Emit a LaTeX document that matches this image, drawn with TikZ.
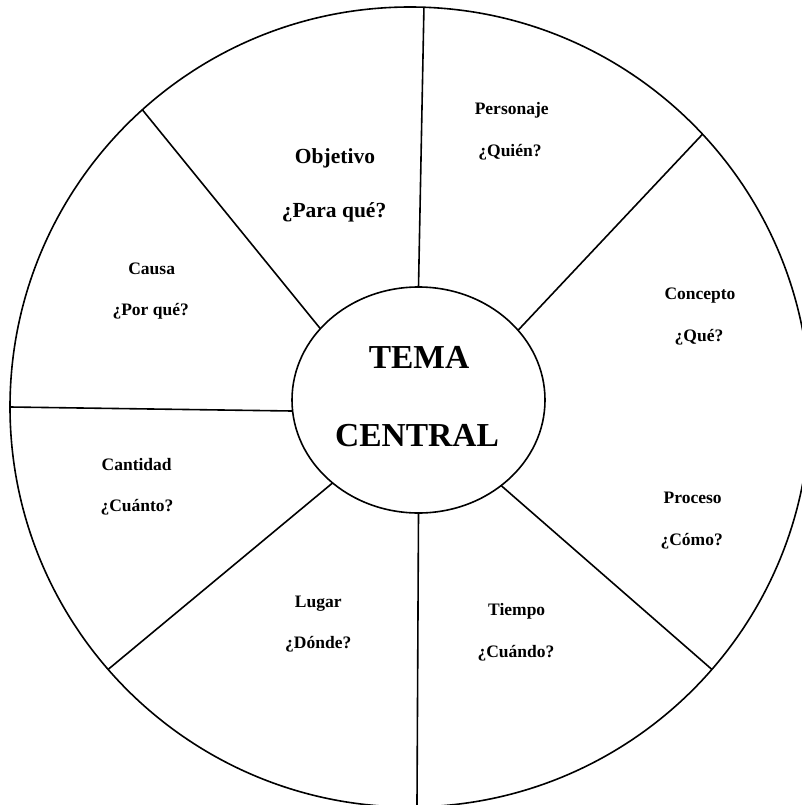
\documentclass[tikz,border=0pt]{standalone}
\usepackage{fontspec}
\setmainfont{Liberation Serif}
\usetikzlibrary{shapes.geometric}
\begin{document}
\begin{tikzpicture}[x=1pt,y=-1pt,
  rimline/.style={line width=1.6pt},
  lbl/.style={font=\bfseries\fontsize{17.5}{20}\selectfont, anchor=base, inner sep=0pt},
  biglbl/.style={font=\bfseries\fontsize{21.5}{24}\selectfont, anchor=base, inner sep=0pt},
  core/.style={font=\bfseries\fontsize{33.5}{36}\selectfont, anchor=base, inner sep=0pt}]
\useasboundingbox (0,0) rectangle (802,805);
\fill[white] (0,0) rectangle (802,805);
\clip (0,0) rectangle (802,805);
% outer circle and central ellipse
\node[draw, rimline, circle, minimum size=800pt, inner sep=0pt, outer sep=0pt] (rim) at (410,407) {};
\node[draw, rimline, ellipse, minimum width=253pt, minimum height=226pt, inner sep=0pt, outer sep=0pt] (tema) at (418.5,400) {};
% spokes
\draw[rimline] (tema.90.3) -- (rim.88.5);
\draw[rimline] (tema.144.5) -- (rim.132.3);
\draw[rimline] (tema.35) -- (rim.43.1);
\draw[rimline] (tema.185.9) -- (rim.180.7);
\draw[rimline] (tema.224.4) -- (rim.221.1);
\draw[rimline] (tema.270) -- (rim.271);
\draw[rimline] (tema.314.2) -- (rim.319.55);
% central text
\node[core] (t1) at (419,368) {TEMA};
\node[core] (t2) at (417,446) {CENTRAL};
% labels
\node[biglbl] (obj) at (335,164) {Objetivo};
\node[biglbl] (objq) at (334,217) {¿Para qué?};
\node[lbl] (per) at (511.7,115) {Personaje};
\node[lbl] (perq) at (510,157) {¿Quién?};
\node[lbl] (cau) at (151.7,274.5) {Causa};
\node[lbl] (cauq) at (150.7,315.5) {¿Por qué?};
\node[lbl] (can) at (136.7,470.5) {Cantidad};
\node[lbl] (canq) at (137,511) {¿Cuánto?};
\node[lbl] (lug) at (318.3,607) {Lugar};
\node[lbl] (lugq) at (318.3,648) {¿Dónde?};
\node[lbl] (tie) at (516.7,615.5) {Tiempo};
\node[lbl] (tieq) at (516,657) {¿Cuándo?};
\node[lbl] (con) at (700,299) {Concepto};
\node[lbl] (conq) at (699,341.5) {¿Qué?};
\node[lbl] (pro) at (692.7,503) {Proceso};
\node[lbl] (proq) at (691.7,545.5) {¿Cómo?};
\end{tikzpicture}
\end{document}
